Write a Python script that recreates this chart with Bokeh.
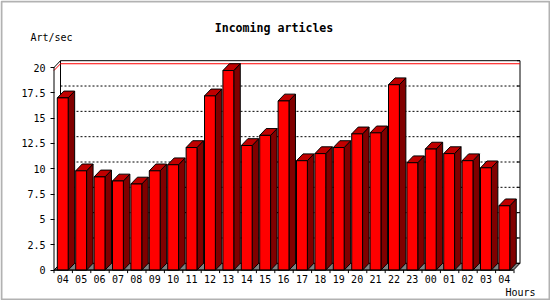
from bokeh.plotting import figure
from bokeh.models import (Range1d, FixedTicker, NumeralTickFormatter, Label,
                          BoxAnnotation, LinearAxis)
from bokeh.embed import file_html
from bokeh.resources import INLINE
import numpy as np

# ---- data ----
hours = ["04", "05", "06", "07", "08", "09", "10", "11", "12", "13", "14", "15", "16",
         "17", "18", "19", "20", "21", "22", "23", "00", "01", "02", "03", "04"]
values = [17.0, 9.8, 9.2, 8.8, 8.5, 9.8, 10.4, 12.1, 17.2, 19.7, 12.3, 13.3, 16.7,
          10.8, 11.5, 12.1, 13.45, 13.55, 18.3, 10.6, 11.95, 11.5, 10.8, 10.1, 6.35]
y_ticks = [0, 2.5, 5, 7.5, 10, 12.5, 15, 17.5, 20]
title_text = "Incoming articles"
y_title = "Art/sec"
x_title = "Hours"

# ---- layout constants (pixels) ----
W, H = 550, 300
X0PX, PXX = 53.5, 18.4                      # x=0 position and px per slot
Y0PX, PXY = 269.6, 10.13                    # y=0 position and px per unit

def X(px):
    return (px - X0PX) / PXX

def Y(py):
    return (Y0PX - py) / PXY

n = len(values)
ymax_axis = 20.0
dx = 6.5 / PXX
dy = 6.8 / PXY
xend = X(519.5)

p = figure(width=W, height=H, output_backend="svg", toolbar_location=None,
           x_range=Range1d(X(0), X(W)), y_range=Range1d(Y(H), Y(0)),
           min_border=0, x_axis_location=None, y_axis_location=None)
p.grid.visible = False
p.outline_line_color = None
p.background_fill_color = "white"
p.border_fill_color = "white"

FONT = "DejaVu Sans Mono"

# left axis (fixed at the front axis position)
yax = LinearAxis(ticker=FixedTicker(ticks=y_ticks),
                 formatter=NumeralTickFormatter(format="0.[0]"),
                 fixed_location=X(50))
yax.axis_line_color = None
yax.major_tick_in = 4
yax.major_tick_out = 0
yax.major_tick_line_color = "black"
yax.minor_tick_line_color = None
yax.major_label_standoff = 5
yax.major_label_text_font = FONT
yax.major_label_text_font_size = "10px"
yax.major_label_text_color = "black"
p.add_layout(yax, "left")

# bottom axis (labels only, centred under bar fronts)
lab_pos = [i + 0.475 for i in range(n)]
xax = LinearAxis(ticker=FixedTicker(ticks=lab_pos), fixed_location=0)
xax.major_label_overrides = {pos: h for pos, h in zip(lab_pos, hours)}
xax.axis_line_color = None
xax.major_tick_line_color = None
xax.major_tick_in = 0
xax.major_tick_out = 0
xax.minor_tick_line_color = None
xax.major_label_standoff = 5
xax.major_label_text_font = FONT
xax.major_label_text_font_size = "10px"
xax.major_label_text_color = "black"
p.add_layout(xax, "below")

# floor
p.patch([0, dx, xend, xend - dx], [0, dy, dy, 0], fill_color="#808080",
        line_color="black", line_width=1)

# back wall frame
p.line([dx, dx, xend, xend], [dy, ymax_axis + dy, ymax_axis + dy, dy],
       line_color="black", line_width=1)
p.line([0, dx], [ymax_axis, ymax_axis + dy], line_color="black", line_width=1)

# dotted grid on back wall
for t in y_ticks[1:-1]:
    p.line([dx, xend], [t + dy, t + dy], line_color="black", line_width=1,
           line_dash="2 2")
# small ticks on right back edge
for t in y_ticks:
    p.line([xend - 3 / PXX, xend], [t + dy, t + dy], line_color="black", line_width=1)

# max line (red)
vmax = max(values)
p.line([0, dx, xend], [vmax, vmax + dy, vmax + dy], line_color="red", line_width=1)

# front y axis line
p.line([0, 0], [0, ymax_axis], line_color="black", line_width=1)

# bars
v = np.array(values)
left = np.arange(n) + 0.18
right = np.arange(n) + 0.77
side_xs = [[r, r + dx, r + dx, r] for r in right]
side_ys = [[0, dy, val + dy, val] for val in v]
top_xs = [[l, l + dx, r + dx, r] for l, r in zip(left, right)]
top_ys = [[val, val + dy, val + dy, val] for val in v]
p.patches(side_xs, side_ys, fill_color="#800000", line_color="black", line_width=1)
p.patches(top_xs, top_ys, fill_color="#c00000", line_color="black", line_width=1)
p.quad(left=left, right=right, bottom=0, top=v, fill_color="#ff0000",
       line_color="black", line_width=1)

# x axis line and ticks
p.line([0, xend - dx], [0, 0], line_color="black", line_width=1)
for i in range(n + 1):
    p.line([i, i], [0, -3 / PXY], line_color="black", line_width=1)

# texts
p.add_layout(Label(x=X(273.5), y=Y(27), text=title_text, text_font=FONT,
                   text_font_style="bold", text_font_size="11.6px",
                   text_align="center", text_baseline="middle", text_color="black"))
p.add_layout(Label(x=X(30), y=Y(37), text=y_title, text_font=FONT,
                   text_font_size="10px", text_align="left", text_baseline="middle",
                   text_color="black"))
p.add_layout(Label(x=X(505), y=Y(292), text=x_title, text_font=FONT,
                   text_font_size="10px", text_align="left", text_baseline="middle",
                   text_color="black"))

# outer border
p.add_layout(BoxAnnotation(left=X(1), right=X(549), top=Y(1), bottom=Y(299),
                           fill_alpha=0, line_color="black", line_width=2))

open("out.html", "w").write(file_html(p, INLINE))
